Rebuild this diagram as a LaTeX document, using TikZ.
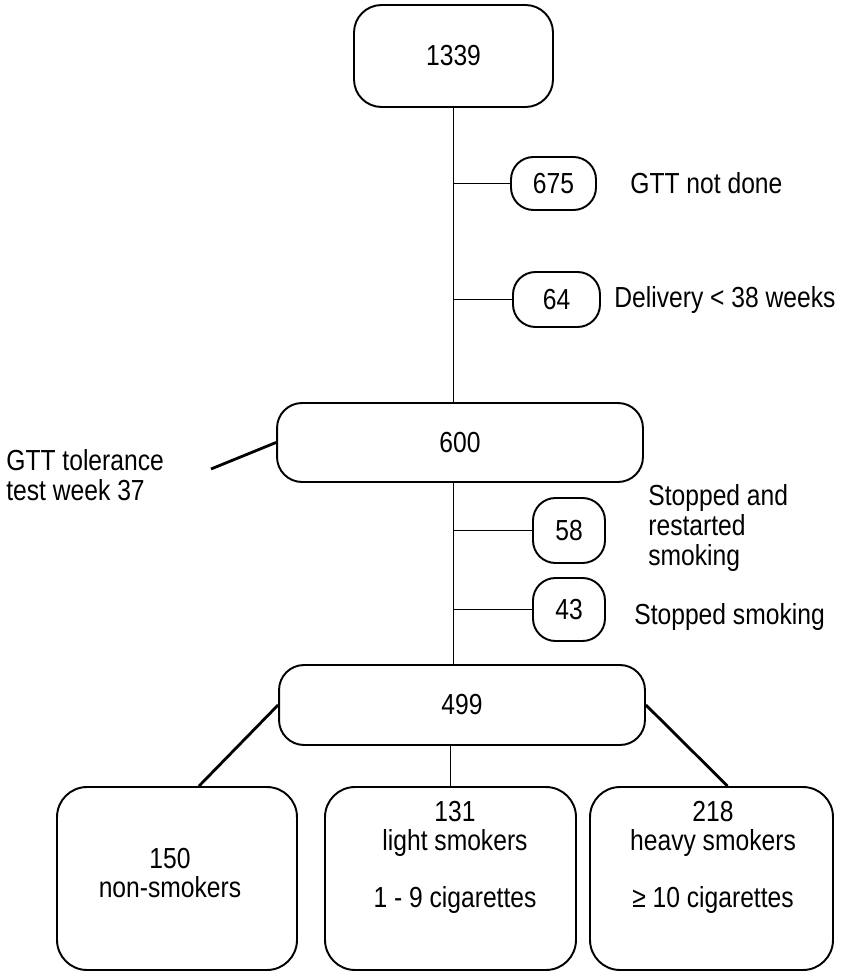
\documentclass[tikz,border=0pt]{standalone}
\usepackage{fontspec}
\setmainfont{Liberation Sans}[FakeStretch=0.85]
\usepackage{tikz}
\usetikzlibrary{calc}

\begin{document}
\begin{tikzpicture}[
  x=0.02cm, y=-0.02cm,
  font=\fontsize{16.5}{17}\selectfont,
  bigbox/.style={draw, rounded corners=0.55cm, line width=1.1pt, inner sep=0pt},
  pill/.style={draw, rounded corners=0.45cm, line width=1.1pt, inner sep=0pt},
  cntbox/.style={draw, rounded corners=0.6cm, line width=1.1pt, inner sep=0pt,
                 minimum height=3.66cm},
  note/.style={anchor=west, align=left, inner sep=0pt},
  link/.style={line width=1pt},
  slant/.style={line width=1.6pt}
]
\useasboundingbox (0,0) rectangle (844,973);

\node[bigbox, minimum width=3.98cm, minimum height=2.04cm] (n1339) at (453.5,56) {1339};
\node[pill, minimum width=1.7cm, minimum height=1.06cm] (n675) at (553.5,183.5) {675};
\node[pill, minimum width=1.74cm, minimum height=1.1cm] (n64) at (556.5,299.5) {64};
\node[bigbox, rounded corners=0.5cm, minimum width=7.32cm, minimum height=1.58cm] (n600) at (460,442.5) {600};
\node[pill, minimum width=1.44cm, minimum height=1.3cm] (n58) at (569,530.5) {58};
\node[pill, minimum width=1.44cm, minimum height=1.26cm] (n43) at (569,609.5) {43};
\node[bigbox, rounded corners=0.5cm, minimum width=7.32cm, minimum height=1.6cm] (n499) at (462,705) {499};

\node[cntbox, minimum width=4.8cm] (b1) at (177,878.5) {};
\node[cntbox, minimum width=5.02cm] (b2) at (450.5,878.5) {};
\node[cntbox, minimum width=4.86cm] (b3) at (711.5,878.5) {};
\node[align=center, inner sep=0pt] (b1txt) at (170,873) {150\\non-smokers};
\node[align=center, inner sep=0pt] (b2txt) at (455,857) {131\\light smokers\\[15pt]1 - 9 cigarettes};
\node[align=center, inner sep=0pt] (b3txt) at (713,857) {218\\heavy smokers\\[15pt]≥ 10 cigarettes};

% side notes
\node[note] (notdone) at (630,183) {GTT not done};
\node[note] (early) at (614,300) {Delivery < 38 weeks};
\node[note] (restart) at (648,528) {Stopped and\\restarted\\smoking};
\node[note] (stopped) at (634,617) {Stopped smoking};
\node[note] (gtt) at (6,475) {GTT tolerance\\test week 37};
\coordinate (gttend) at (211,469);

\draw[link] (n1339.south) -- (n1339.south |- n600.north);
\draw[link] (n1339.south |- n675.west) -- (n675.west);
\draw[link] (n1339.south |- n64.west) -- (n64.west);
\draw[link] (n1339.south |- n600.south) -- (n1339.south |- n499.north);
\draw[link] (n1339.south |- n58.west) -- (n58.west);
\draw[link] (n1339.south |- n43.west) -- (n43.west);
\draw[slant] (gttend) -- (n600.west);

\draw[slant] (n499.west) -- ($(b1.north)+(22,0)$);
\draw[link] (b2.north |- n499.south) -- (b2.north);
\draw[slant] (n499.east) -- ($(b3.north)+(16,0)$);
\end{tikzpicture}
\end{document}
